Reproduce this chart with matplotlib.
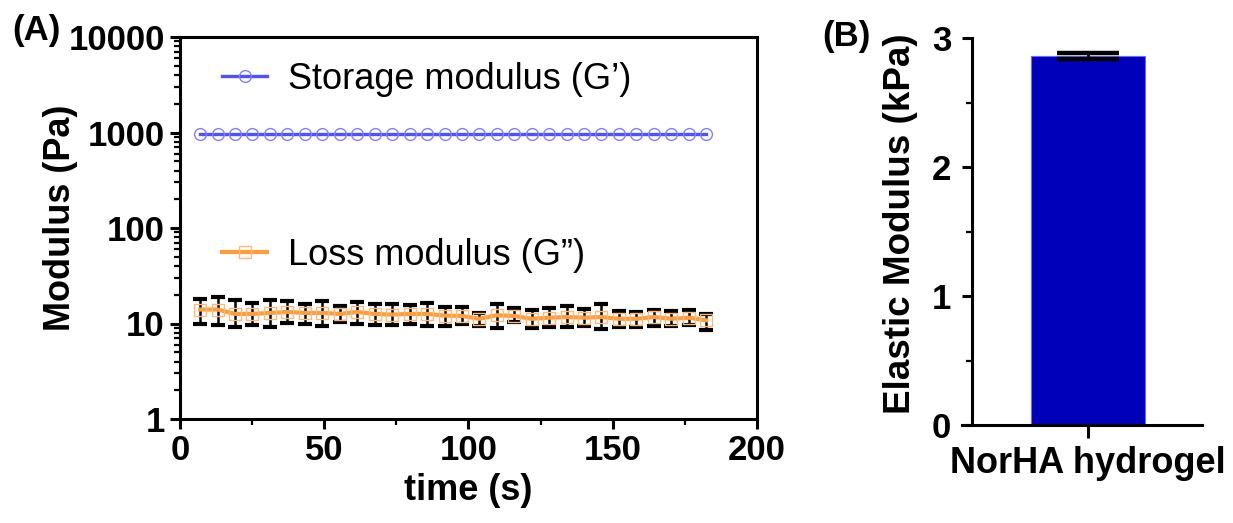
import matplotlib
matplotlib.use("Agg")
import matplotlib.pyplot as plt
from matplotlib.ticker import LogLocator, NullFormatter, MultipleLocator, FixedLocator

plt.rcParams['font.family'] = ['Liberation Sans', 'DejaVu Sans']

# (A) time sweep
time_s = [7.0, 13.0, 19.1, 25.1, 31.2, 37.2, 43.3, 49.3, 55.4, 61.4,
          67.5, 73.5, 79.6, 85.6, 91.7, 97.7, 103.8, 109.8, 115.9, 121.9,
          128.0, 134.0, 140.1, 146.1, 152.2, 158.2, 164.3, 170.3, 176.4, 182.4]
g_storage = [965] * 30
g_loss = [14.0, 14.0, 12.6, 12.6, 12.9, 13.2, 12.9, 12.9, 12.6, 13.2,
          12.6, 12.4, 12.6, 12.6, 12.1, 12.0, 11.2, 12.2, 12.0, 11.2,
          11.5, 11.7, 11.5, 11.7, 11.2, 11.2, 11.7, 11.2, 11.5, 10.8]
g_loss_hi = [17.9, 18.9, 17.5, 16.5, 17.5, 17.2, 16.1, 17.2, 15.2, 16.9,
             16.1, 15.9, 15.6, 16.5, 14.9, 14.9, 13.0, 15.9, 14.6, 13.7,
             14.4, 15.2, 14.3, 15.9, 13.5, 13.3, 14.0, 13.5, 13.7, 12.6]
g_loss_lo = [9.8, 9.6, 9.2, 9.6, 9.2, 10.2, 9.8, 9.4, 10.4, 9.9,
             9.6, 9.6, 9.9, 9.4, 9.5, 9.8, 9.4, 9.0, 10.3, 8.9,
             9.2, 9.2, 9.4, 8.7, 9.2, 9.2, 9.4, 9.4, 9.6, 8.5]
series_labels = ["Storage modulus (G\u2019)", "Loss modulus (G\u201d)"]

# (B) elastic modulus
bar_labels = ["NorHA hydrogel"]
bar_values = [2.86]
bar_err = [0.026]

blue = '#5050FF'
blue_m = '#8080FF'
orange = '#FF9D3C'
orange_m = '#FFB878'

fig = plt.figure(figsize=(12.33, 5.23), dpi=100)

ax = fig.add_axes([180/1233, 1-419/523, 577/1233, 382/523])
err_lo = [m - l for m, l in zip(g_loss, g_loss_lo)]
err_hi = [h - m for m, h in zip(g_loss, g_loss_hi)]
ax.errorbar(time_s, g_loss, yerr=[err_lo, err_hi], fmt='none', ecolor='black',
            elinewidth=1.8, capsize=4.7, capthick=3.0, zorder=2)
l1, = ax.plot(time_s, g_storage, color=blue, lw=2.4, marker='o', ms=8.5,
              mfc='none', mec=blue_m, mew=1.0, zorder=3)
l2, = ax.plot(time_s, g_loss, color=orange, lw=3.0, marker='s', ms=8.5,
              mfc='none', mec=orange_m, mew=1.0, zorder=3)
ax.set_yscale('log')
ax.set_ylim(1, 10000)
ax.set_xlim(0, 200)
ax.yaxis.set_major_locator(FixedLocator([1, 10, 100, 1000, 10000]))
ax.set_yticklabels(['1', '10', '100', '1000', '10000'])
ax.yaxis.set_minor_locator(LogLocator(base=10, subs=range(2, 10), numticks=20))
ax.yaxis.set_minor_formatter(NullFormatter())
ax.xaxis.set_major_locator(MultipleLocator(50))
ax.xaxis.set_minor_locator(MultipleLocator(25))
for s in ax.spines.values():
    s.set_linewidth(2.2)
ax.tick_params(which='major', direction='out', length=7, width=2.2, pad=4,
               labelsize=25)
ax.tick_params(which='minor', direction='out', length=4, width=1.6)
for t in ax.get_xticklabels() + ax.get_yticklabels():
    t.set_fontweight('bold')
ax.set_xlabel('time (s)', fontsize=26, fontweight='bold', labelpad=4)
ax.set_ylabel('Modulus (Pa)', fontsize=26, fontweight='bold')
ax.yaxis.set_label_coords(-0.177, 0.527)
ax.legend([l1, l2], series_labels, loc='upper left', bbox_to_anchor=(0.073, 0.935),
          frameon=False, fontsize=26, borderpad=0, borderaxespad=0,
          labelspacing=3.9, handlelength=1.25, handletextpad=0.58, numpoints=1)

bx = fig.add_axes([962/1233, 1-425/523, 240/1233, 387/523])
bx.bar([0], bar_values, width=0.5, color='#0000BB', edgecolor='#6A6AFF', lw=0.8,
       zorder=2)
bx.errorbar([0], bar_values, yerr=bar_err, fmt='none', ecolor='black',
            elinewidth=2.0, capsize=22, capthick=3.2, zorder=3)
bx.set_xlim(-0.55, 0.5)
bx.set_ylim(0, 3)
bx.set_xticks([0])
bx.set_xticklabels(bar_labels)
bx.yaxis.set_major_locator(MultipleLocator(1))
bx.yaxis.set_minor_locator(MultipleLocator(0.5))
bx.spines['top'].set_visible(False)
bx.spines['right'].set_visible(False)
bx.spines['left'].set_position(('axes', 10/240))
for s in ('left', 'bottom'):
    bx.spines[s].set_linewidth(2.2)
bx.tick_params(which='major', direction='out', length=7, width=2.2, pad=8,
               labelsize=25)
bx.tick_params(axis='x', length=9, pad=6, labelsize=26)
bx.tick_params(which='minor', direction='out', length=4, width=1.6)
for t in bx.get_xticklabels() + bx.get_yticklabels():
    t.set_fontweight('bold')
bx.set_ylabel('Elastic Modulus (kPa)', fontsize=26.5, fontweight='bold')
bx.yaxis.set_label_coords(-0.183, 0.521)

fig.text(12/1233, 1-40/523, '(A)', fontsize=25, fontweight='bold')
fig.text(822/1233, 1-46/523, '(B)', fontsize=25, fontweight='bold')

fig.savefig('out.png', dpi=100)
